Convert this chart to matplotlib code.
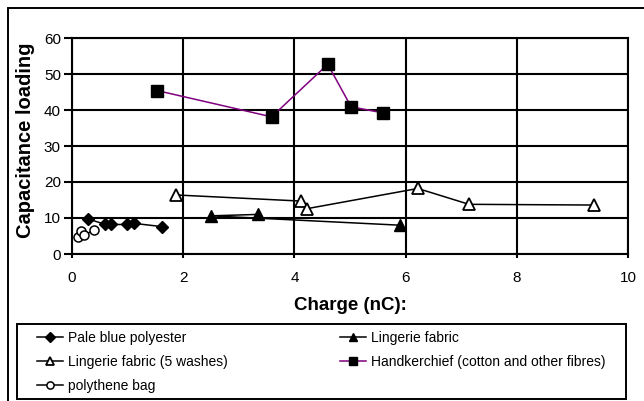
import matplotlib
matplotlib.use("Agg")
import matplotlib.pyplot as plt
from matplotlib.patches import Rectangle

plt.rcParams['font.family'] = ['Liberation Sans', 'DejaVu Sans']

# Data
polyester_x = [0.28, 0.60, 0.70, 0.99, 1.12, 1.62]
polyester_y = [9.8, 8.2, 8.2, 8.2, 8.5, 7.6]

lingerie_x = [3.35, 2.50, 5.90]
lingerie_y = [11.0, 10.6, 8.0]

lingerie5_x = [1.87, 4.12, 4.23, 6.22, 7.14, 9.39]
lingerie5_y = [16.4, 14.7, 12.6, 18.2, 13.8, 13.6]

hanky_x = [1.53, 3.59, 4.60, 5.02, 5.59]
hanky_y = [45.4, 38.1, 52.7, 40.9, 39.2]

bag_x = [0.10, 0.17, 0.22, 0.40]
bag_y = [4.6, 6.3, 5.2, 6.7]

x_ticks = [0, 2, 4, 6, 8, 10]
y_ticks = [0, 10, 20, 30, 40, 50, 60]

W, H = 644, 401
fig = plt.figure(figsize=(W / 100, H / 100), dpi=100)

# outer chart frame (extends beyond the image on the right/bottom)
fig.patches.append(Rectangle((7.5 / W, -0.05), 1.2, 1 - 7.5 / H + 0.05,
                             transform=fig.transFigure, fill=False,
                             edgecolor='black', linewidth=1.4))
# legend box
fig.patches.append(Rectangle((17 / W, 1 - 399 / H), (626 - 17) / W, (399 - 324) / H,
                             transform=fig.transFigure, fill=False,
                             edgecolor='black', linewidth=1.4))

left, right, top, bottom = 72, 628, 38, 254
ax = fig.add_axes([left / W, 1 - bottom / H, (right - left) / W, (bottom - top) / H])
ax.set_xlim(0, 10)
ax.set_ylim(0, 60)
ax.set_xticks(x_ticks)
ax.set_yticks(y_ticks)
ax.grid(True, color='black', linewidth=1.5)
ax.set_axisbelow(True)
for s in ax.spines.values():
    s.set_linewidth(1.5)
ax.tick_params(axis='y', length=6, width=1.5, labelsize=11, pad=2)
ax.tick_params(axis='x', length=3, width=1.5, labelsize=11, pad=9)

lw = 1.1
l1, = ax.plot(polyester_x, polyester_y, color='black', lw=lw, marker='D',
              markersize=6, markerfacecolor='black', markeredgecolor='black',
              label='Pale blue polyester', clip_on=False)
l2, = ax.plot(lingerie_x, lingerie_y, color='black', lw=lw, marker='^',
              markersize=8, markerfacecolor='black', markeredgecolor='black',
              label='Lingerie fabric', clip_on=False)
l3, = ax.plot(lingerie5_x, lingerie5_y, color='black', lw=lw, marker='^',
              markersize=8, markerfacecolor='white', markeredgecolor='black',
              markeredgewidth=1.3, label='Lingerie fabric (5 washes)', clip_on=False)
l4, = ax.plot(hanky_x, hanky_y, color='#800080', lw=lw, marker='s',
              markersize=8, markerfacecolor='black', markeredgecolor='black',
              label='Handkerchief (cotton and other fibres)', clip_on=False)
l5, = ax.plot(bag_x, bag_y, color='black', lw=lw, marker='o',
              markersize=6.5, markerfacecolor='white', markeredgecolor='black',
              markeredgewidth=1.1, label='polythene bag', clip_on=False)

ax.set_ylabel('Capacitance loading', fontsize=14.5, fontweight='bold')
ax.yaxis.set_label_coords((35 - left) / (right - left), (bottom - 140) / (bottom - top))
ax.set_xlabel('Charge (nC):', fontsize=13.5, fontweight='bold', labelpad=9)

# row-major order as in the reference legend
leg = fig.legend(handles=[l1, l3, l5, l2, l4], ncol=2, loc='upper left',
                 bbox_to_anchor=(37 / W, 1 - 331 / H), borderaxespad=0,
                 fontsize=10, frameon=False,
                 handlelength=1.87, handletextpad=0.36, labelspacing=0.72,
                 columnspacing=8.1, borderpad=0, markerscale=0.8)

fig.savefig('out.png', dpi=100)
